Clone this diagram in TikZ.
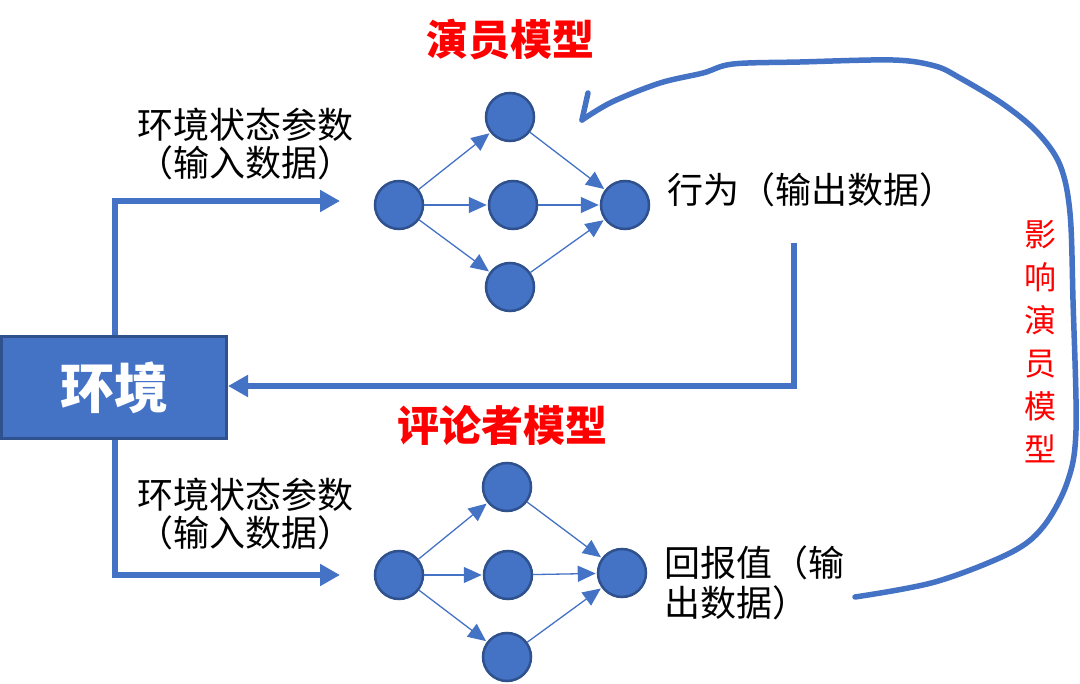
\documentclass[tikz,border=0pt]{standalone}
\usepackage{fontspec}
\setmainfont{Noto Sans CJK SC}
\usetikzlibrary{arrows.meta}
\definecolor{nblue}{HTML}{4472C4}
\definecolor{dblue}{HTML}{2F528F}
\definecolor{nred}{HTML}{FF0000}
\begin{document}
\begin{tikzpicture}[x=1pt,y=-1pt,
  neuron/.style={circle,fill=nblue,draw=dblue,line width=2.5pt,minimum size=48pt,inner sep=0pt},
  netarrow/.style={draw=nblue,line width=1.3pt,-{Triangle[length=18pt,width=16pt]},shorten >=1pt},
  bigarrow/.style={draw=nblue,line width=5.5pt,-{Triangle[length=20pt,width=21pt]}},
  bigline/.style={draw=nblue,line width=5.5pt},
  lbl/.style={font=\fontsize{36}{38}\selectfont,text=black,inner sep=0pt},
  ttl/.style={font=\fontsize{42}{46}\selectfont\bfseries,text=nred,inner sep=0pt}
]
\useasboundingbox (0,0) rectangle (1080,684);

% environment box
\node[draw=dblue,fill=nblue,line width=3pt,minimum width=225pt,minimum height=102pt,inner sep=0pt,
      font=\fontsize{54}{60}\selectfont\bfseries,text=white] (env) at (114,388) {环境};

% actor network
\node[neuron] (a0) at (399,205) {};
\node[neuron] (a1) at (510,117) {};
\node[neuron] (a2) at (513,205) {};
\node[neuron] (a3) at (510,287) {};
\node[neuron] (a4) at (625,205) {};
\foreach \s/\t in {a0/a1,a0/a2,a0/a3,a1/a4,a2/a4,a3/a4} \draw[netarrow] (\s) -- (\t);

% critic network
\node[neuron] (c0) at (399,575) {};
\node[neuron] (c1) at (507,487) {};
\node[neuron] (c2) at (508,575) {};
\node[neuron] (c3) at (507,657) {};
\node[neuron] (c4) at (622,573) {};
\foreach \s/\t in {c0/c1,c0/c2,c0/c3,c1/c4,c2/c4,c3/c4} \draw[netarrow] (\s) -- (\t);

% titles
\node[ttl] (t1) at (510,40) {演员模型};
\node[ttl] (t2) at (502,425) {评论者模型};

% labels
\node[lbl,align=center] (l1) at (245,144) {环境状态参数\\（输入数据）};
\node[lbl,align=center] (l2) at (245,514) {环境状态参数\\（输入数据）};
\node[lbl,anchor=west] (l3) at (667,190) {行为（输出数据）};
\node[lbl,align=left,anchor=west,font=\fontsize{36}{40}\selectfont] (l4) at (664,583) {回报值（输\\出数据）};

% connectors from environment
\coordinate (in1) at (340,201);
\coordinate (in2) at (340,575);
\draw[bigarrow] (env.north -| 115,0) |- (in1);
\draw[bigarrow] (env.south -| 115,0) |- (in2);

% output back to environment
\coordinate (out1) at (794,243);
\draw[bigarrow] (out1) |- (env.east |- 0,386);

% influence curve
\coordinate (cs) at (855,597);
\coordinate (ce) at (582,120);
\draw[bigline,line cap=round,line join=round] plot[smooth,tension=0.55] coordinates {
  (855,597) (935,582) (1010,553) (1043,527) (1067,483) (1076,430) (1073,300) (1070,213)
  (1060,165) (1037,132) (1003,104) (960,78) (935,66) (893,60) (800,62) (733,64)
  (703,73) (660,83) (612,102) (582,120)};
\draw[bigline,line cap=round,line join=round] (588,93) -- (ce);

\node[text=nred,font=\fontsize{32}{43}\selectfont,align=center,inner sep=0pt] (inf) at (1040,342)
  {影\\响\\演\\员\\模\\型};
\end{tikzpicture}
\end{document}
